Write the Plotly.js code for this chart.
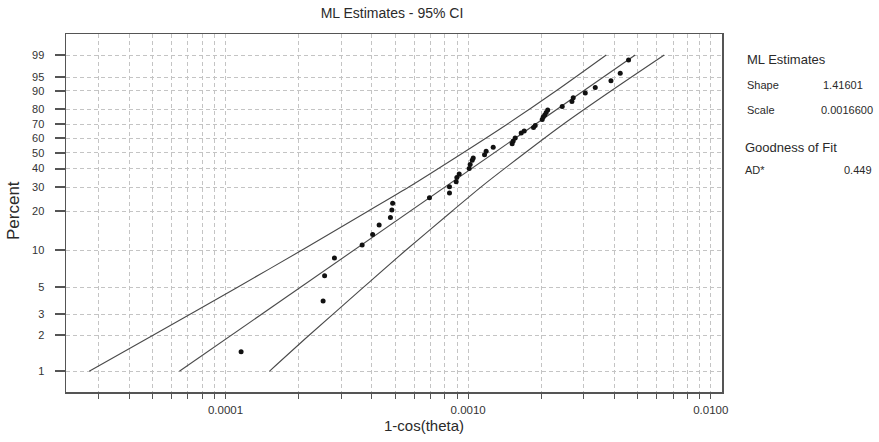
<!DOCTYPE html>
<html>
<head>
<meta charset="utf-8">
<script src="https://cdn.plot.ly/plotly-3.0.1.min.js"></script>
<style>html,body{margin:0;padding:0;background:#fff;}#chart{width:879px;height:442px;}</style>
</head>
<body>
<div id="chart"></div>
<script>
// ---- data ----
const xData = [1.159e-4, 2.524e-4, 2.560e-4, 2.810e-4, 3.655e-4, 4.038e-4, 4.295e-4, 4.781e-4, 4.846e-4, 4.883e-4,
  6.925e-4, 8.373e-4, 8.373e-4, 8.923e-4, 8.981e-4, 9.183e-4, 1.0095e-3, 1.019e-3, 1.039e-3, 1.049e-3,
  1.168e-3, 1.186e-3, 1.268e-3, 1.518e-3, 1.533e-3, 1.562e-3, 1.654e-3, 1.702e-3, 1.859e-3, 1.889e-3,
  2.019e-3, 2.038e-3, 2.068e-3, 2.097e-3, 2.127e-3, 2.441e-3, 2.677e-3, 2.710e-3, 3.038e-3, 3.340e-3,
  3.877e-3, 4.234e-3, 4.581e-3];
const pctData = [1.46, 3.84, 6.20, 8.63, 10.95, 13.26, 15.72, 17.94, 20.44, 22.92,
  25.19, 27.24, 30.17, 32.69, 34.90, 36.82, 39.99, 42.43, 45.05, 46.54,
  48.70, 50.96, 53.71, 56.15, 58.11, 60.24, 63.80, 65.24, 67.71, 69.12,
  73.29, 74.98, 76.32, 77.95, 79.54, 81.70, 84.60, 86.65, 88.98, 91.40,
  93.91, 96.05, 98.47];

// fitted Weibull line (endpoints read at 1% and 99%)
const fitPct = [1, 99];
const fitX = [6.45e-5, 4.88e-3];

// 95% confidence bands
const bandPct = [1, 2, 5, 10, 20, 30, 50, 70, 90, 99];
const bandLower = [2.741e-5, 5.023e-5, 1.121e-4, 2.068e-4, 3.861e-4, 5.693e-4, 9.537e-4, 1.448e-3, 2.306e-3, 3.708e-3];
const bandUpper = [1.515e-4, 2.210e-4, 3.707e-4, 5.548e-4, 8.574e-4, 1.128e-3, 1.718e-3, 2.465e-3, 3.888e-3, 6.429e-3];

// axis ticks
const yTickPct = [1, 2, 3, 5, 10, 20, 30, 40, 50, 60, 70, 80, 90, 95, 99];
const yTickText = ['1', '2', '3', '5', '10', '20', '30', '40', '50', '60', '70', '80', '90', '95', '99'];
const xMajor = [1e-4, 1e-3, 1e-2];
const xMajorText = ['0.0001', '0.0010', '0.0100'];

const title = 'ML Estimates - 95% CI';
const xTitle = '1-cos(theta)';
const yTitle = 'Percent';
const statHeader = 'ML Estimates';
const statNames = ['Shape', 'Scale'];
const statValues = ['1.41601', '0.0016600'];
const gofHeader = 'Goodness of Fit';
const gofName = 'AD*';
const gofValue = '0.449';

// ---- Weibull probability scale ----
const wb = p => Math.log(-Math.log(1 - p / 100));

// x grid: every integer multiple within decades
const xGrid = [], xGridText = [];
for (let e = -5; e <= -2; e++) {
  for (let m = 1; m <= 9; m++) {
    const v = m * Math.pow(10, e);
    if (v < 2.3e-5 || v > 0.0111) continue;
    xGrid.push(v);
    const idx = xMajor.findIndex(t => Math.abs(t - v) / t < 1e-9);
    xGridText.push(idx >= 0 ? xMajorText[idx] : '');
  }
}

const FONT = 'Liberation Sans, Arial, sans-serif';
const lineCol = '#4a4a4a';

const traces = [
  {x: bandLower, y: bandPct.map(wb), mode: 'lines', line: {color: lineCol, width: 1.1, shape: 'spline', smoothing: 0.8}, hoverinfo: 'skip'},
  {x: bandUpper, y: bandPct.map(wb), mode: 'lines', line: {color: lineCol, width: 1.1, shape: 'spline', smoothing: 0.8}, hoverinfo: 'skip'},
  {x: fitX, y: fitPct.map(wb), mode: 'lines', line: {color: lineCol, width: 1.1}, hoverinfo: 'skip'},
  {x: xData, y: pctData.map(wb), mode: 'markers', marker: {color: '#111', size: 5}}
];

const L = 66, R = 722, T = 34, B = 392;
const px = v => (v - L) / (R - L);
const py = v => (B - v) / (B - T);

const ann = (text, x, y, size, extra) => Object.assign({
  text: text, xref: 'paper', yref: 'paper', x: px(x), y: py(y), xanchor: 'left', yanchor: 'middle',
  showarrow: false, font: {family: FONT, size: size, color: '#2a2a2a'}
}, extra || {});

const annotations = [
  ann(xTitle, 424, 425, 15, {xanchor: 'center'}),
  ann(yTitle, 14, 211, 17, {xanchor: 'center', textangle: -90}),
  ann(statHeader, 745, 59.5, 13),
  ann(statNames[0], 745, 84.5, 11),
  ann(statValues[0], 820.5, 84.5, 11),
  ann(statNames[1], 745, 110, 11),
  ann(statValues[1], 819, 110, 11),
  ann(gofHeader, 743, 147.5, 13),
  ann(gofName, 743, 170, 11),
  ann(gofValue, 841.5, 170, 11)
];

const layout = {
  width: 879, height: 442,
  margin: {l: L, r: 879 - R, t: T, b: 442 - B, pad: 0},
  paper_bgcolor: '#fff', plot_bgcolor: '#fff',
  showlegend: false,
  title: {text: title, x: 392 / 879, xanchor: 'center', xref: 'container', y: 1 - 13 / 442, yanchor: 'middle', yref: 'container',
          font: {family: FONT, size: 14, color: '#2a2a2a'}},
  xaxis: {
    type: 'log', range: [-4.6577, -1.9538],
    tickmode: 'array', tickvals: xGrid, ticktext: xGridText,
    showgrid: true, gridcolor: '#c4c4c4', gridwidth: 1, griddash: '4px,3px',
    ticks: 'outside', ticklen: 5, tickwidth: 1, tickcolor: '#555',
    showline: true, linecolor: '#555', linewidth: 1.5, mirror: true, zeroline: false,
    tickfont: {family: FONT, size: 11.5, color: '#333'}, ticklabelstandoff: 2
  },
  yaxis: {
    range: [-5.001, 1.934],
    tickmode: 'array', tickvals: yTickPct.map(wb), ticktext: yTickText,
    showgrid: true, gridcolor: '#c4c4c4', gridwidth: 1, griddash: '4px,3px',
    ticks: 'outside', ticklen: 10, tickwidth: 2, tickcolor: '#555',
    showline: true, linecolor: '#555', linewidth: 1.5, mirror: true, zeroline: false,
    tickfont: {family: FONT, size: 11, color: '#333'}, ticklabelstandoff: 8
  },
  annotations: annotations
};

Plotly.newPlot('chart', traces, layout, {displayModeBar: false, staticPlot: true});
</script>
</body>
</html>
